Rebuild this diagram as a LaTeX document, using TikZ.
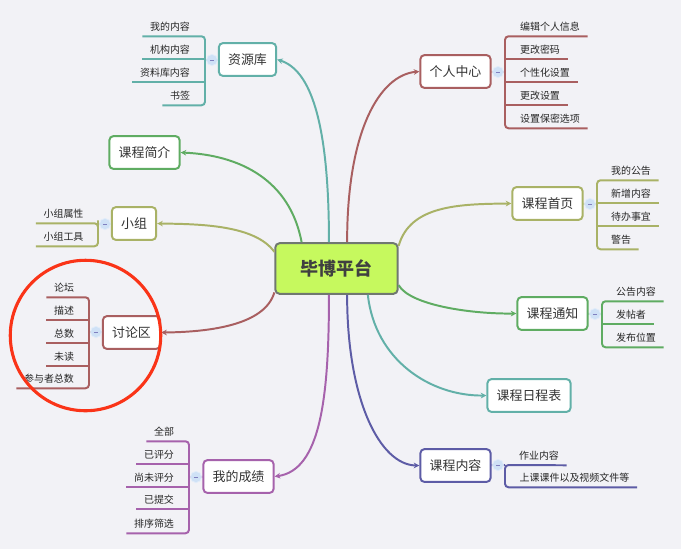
\documentclass[tikz,border=0pt]{standalone}
\usepackage{fontspec}
\usepackage{tikz}
\usetikzlibrary{arrows.meta}
\setmainfont{Noto Sans CJK SC}
\definecolor{paper}{HTML}{F2F2F6}
\definecolor{rootfill}{HTML}{C6F95E}
\definecolor{rootline}{HTML}{707870}
\definecolor{tealc}{HTML}{62B0A8}
\definecolor{greenc}{HTML}{5FAC62}
\definecolor{olivec}{HTML}{A9B266}
\definecolor{brownc}{HTML}{A95F60}
\definecolor{purplec}{HTML}{A662AC}
\definecolor{indigoc}{HTML}{5D5CA6}
\definecolor{hubfill}{HTML}{CFE1F6}
\definecolor{ringc}{HTML}{FA3418}
\tikzset{root/.style = {draw = rootline, fill = rootfill, line width = 1.4pt, rounded corners = 3pt, minimum width = 87pt, minimum height = 36pt, text = black!75, font = \fontsize{12.8}{14}\selectfont\bfseries}}
\tikzset{topic/.style = {draw, fill = white, line width = 1.4pt, rounded corners = 3pt, minimum height = 23.4pt, inner xsep = 6.6pt, text = black!80, font = \fontsize{9.2}{12}\selectfont}}
\tikzset{leaf/.style = {inner xsep = 5.3pt, inner ysep = 0, minimum height = 14.2pt, text height = 6.5pt, text depth = 0.5pt, text = black!85, font = \fontsize{7.09}{8}\selectfont}}
\tikzset{hub/.style = {circle, draw = hubfill!60!white, line width = 0.5pt, fill = hubfill, inner sep = 0, minimum size = 8pt, path picture = {\draw [white!50!blue!50!gray, line width = 0.4pt] ([xshift = -1.5pt]path picture bounding box.center) -- ([xshift = 1.5pt]path picture bounding box.center);}}}
\tikzset{curve/.style = {line width = 1.4pt, -{Stealth[length = 4pt, width = 4pt]}}}
\tikzset{branch/.style = {line width = 1.4pt, rounded corners = 2.5pt}}
\begin{document}
\begin{tikzpicture}[x = 0.025cm, y = -0.025cm]

    \fill [paper] (0, 0) rectangle (681, 549);

    \node [root] (root) at (336.5, 268.5) {毕博平台};

    \node [topic, draw = tealc] (zy) at (247.5, 59.5) {资源库};
    \node [topic, draw = greenc] (jj) at (144.5, 152.5) {课程简介};
    \node [topic, draw = olivec] (xz) at (134, 223.5) {小组};
    \node [topic, draw = brownc] (tl) at (131.5, 332.5) {讨论区};
    \node [topic, draw = purplec] (cj) at (238.5, 476.5) {我的成绩};
    \node [topic, draw = brownc] (gr) at (455.5, 71.5) {个人中心};
    \node [topic, draw = olivec] (sy) at (547.5, 203.5) {课程首页};
    \node [topic, draw = greenc] (tz) at (552.5, 313.5) {课程通知};
    \node [topic, draw = tealc] (rc) at (529, 395.5) {课程日程表};
    \node [topic, draw = indigoc] (nr) at (455.5, 465.5) {课程内容};

    \draw [curve, tealc] (root.106) .. controls (329, 120) and (310, 70) .. (zy.east);
    \draw [curve, greenc] (root.143) .. controls (290, 180) and (240, 155) .. (jj.east);
    \draw [curve, olivec] (root.165) .. controls (255, 225) and (200, 224) .. (xz.east);
    \draw [curve, brownc] (root.201) .. controls (265, 325) and (210, 332) .. (tl.east);
    \draw [curve, purplec] (root.254) .. controls (329, 400) and (320, 470) .. (cj.east);
    \draw [curve, brownc] (root.68) .. controls (347, 130) and (380, 75) .. (gr.west);
    \draw [curve, olivec] (root.20) .. controls (410, 205) and (460, 204) .. (sy.west);
    \draw [curve, greenc] (root.-15) .. controls (410, 305) and (470, 314) .. (tz.west);
    \draw [curve, tealc] (root.-40) .. controls (375, 360) and (430, 396) .. (rc.west);
    \draw [curve, indigoc] (root.-68) .. controls (347, 400) and (380, 465) .. (nr.west);

    % left side
    \node [leaf] (zy1) at (170, 26) {我的内容};
    \node [leaf] (zy2) at (170, 49) {机构内容};
    \node [leaf] (zy3) at (165, 72) {资料库内容};
    \node [leaf] (zy4) at (180, 95) {书签};
    \node [hub] (zyhub) at (212, 60) {};
    \coordinate (zyspine) at (205, 60);
    \draw [branch, tealc] (zy1.south west) -| (zyspine) |- (zy4.south west);
    \draw [branch, tealc] (zy2.south west) -- (zy2.south west -| zyspine);
    \draw [branch, tealc] (zy3.south west) -- (zy3.south west -| zyspine);
    \draw [branch, tealc] (zy) -- (zyhub) -- (zyspine);

    \node [leaf] (xz1) at (63.5, 213) {小组属性};
    \node [leaf] (xz2) at (63.5, 236) {小组工具};
    \node [hub] (xzhub) at (105, 224) {};
    \coordinate (xzspine) at (98, 224);
    \draw [branch, olivec] (xz1.south west) -| (xzspine) |- (xz2.south west);
    \draw [branch, olivec] (xz) -- (xzhub) -- (xzspine);

    \node [leaf] (tl1) at (64, 287) {论坛};
    \node [leaf] (tl2) at (64, 310) {描述};
    \node [leaf] (tl3) at (64, 333) {总数};
    \node [leaf] (tl4) at (64, 356) {未读};
    \node [leaf] (tl5) at (49, 378) {参与者总数};
    \node [hub] (tlhub) at (96, 332) {};
    \coordinate (tlspine) at (89, 332);
    \draw [branch, brownc] (tl1.south west) -| (tlspine) |- (tl5.south west);
    \draw [branch, brownc] (tl2.south west) -- (tl2.south west -| tlspine);
    \draw [branch, brownc] (tl3.south west) -- (tl3.south west -| tlspine);
    \draw [branch, brownc] (tl4.south west) -- (tl4.south west -| tlspine);
    \draw [branch, brownc] (tl) -- (tlhub) -- (tlspine);

    \node [leaf] (cj1) at (164, 431) {全部};
    \node [leaf] (cj2) at (159, 454) {已评分};
    \node [leaf] (cj3) at (154, 477) {尚未评分};
    \node [leaf] (cj4) at (159, 499) {已提交};
    \node [leaf] (cj5) at (154, 523) {排序筛选};
    \node [hub] (cjhub) at (196, 477) {};
    \coordinate (cjspine) at (189, 477);
    \draw [branch, purplec] (cj1.south west) -| (cjspine) |- (cj5.south west);
    \draw [branch, purplec] (cj2.south west) -- (cj2.south west -| cjspine);
    \draw [branch, purplec] (cj3.south west) -- (cj3.south west -| cjspine);
    \draw [branch, purplec] (cj4.south west) -- (cj4.south west -| cjspine);
    \draw [branch, purplec] (cj) -- (cjhub) -- (cjspine);

    % right side
    \node [leaf] (gr1) at (550, 26) {编辑个人信息};
    \node [leaf] (gr2) at (540, 49) {更改密码};
    \node [leaf] (gr3) at (545, 72) {个性化设置};
    \node [leaf] (gr4) at (540, 95) {更改设置};
    \node [leaf] (gr5) at (550, 118) {设置保密选项};
    \node [hub] (grhub) at (498, 72) {};
    \coordinate (grspine) at (505, 72);
    \draw [branch, brownc] (gr1.south east) -| (grspine) |- (gr5.south east);
    \draw [branch, brownc] (gr2.south east) -- (gr2.south east -| grspine);
    \draw [branch, brownc] (gr3.south east) -- (gr3.south east -| grspine);
    \draw [branch, brownc] (gr4.south east) -- (gr4.south east -| grspine);
    \draw [branch, brownc] (gr) -- (grhub) -- (grspine);

    \node [leaf] (sy1) at (631, 170) {我的公告};
    \node [leaf] (sy2) at (631, 193) {新增内容};
    \node [leaf] (sy3) at (631, 216) {待办事宜};
    \node [leaf] (sy4) at (621, 239) {警告};
    \node [hub] (syhub) at (590, 204) {};
    \coordinate (syspine) at (597, 204);
    \draw [branch, olivec] (sy1.south east) -| (syspine) |- (sy4.south east);
    \draw [branch, olivec] (sy2.south east) -- (sy2.south east -| syspine);
    \draw [branch, olivec] (sy3.south east) -- (sy3.south east -| syspine);
    \draw [branch, olivec] (sy) -- (syhub) -- (syspine);

    \node [leaf] (tz1) at (636, 291) {公告内容};
    \node [leaf] (tz2) at (631, 314) {发帖者};
    \node [leaf] (tz3) at (636, 337) {发布位置};
    \node [hub] (tzhub) at (595, 314) {};
    \coordinate (tzspine) at (602, 314);
    \draw [branch, greenc] (tz1.south east) -| (tzspine) |- (tz3.south east);
    \draw [branch, greenc] (tz2.south east) -- (tz2.south east -| tzspine);
    \draw [branch, greenc] (tz) -- (tzhub) -- (tzspine);

    \node [leaf] (nr1) at (539, 455) {作业内容};
    \node [leaf] (nr2) at (574.5, 477) {上课课件以及视频文件等};
    \node [hub] (nrhub) at (498, 465) {};
    \coordinate (nrspine) at (505, 465);
    \draw [branch, indigoc] (nr1.south east) -- (nrspine) |- (nr2.south east);
    \draw [branch, indigoc] (nr) -- (nrhub) -- (nrspine);

    \node [circle, draw = ringc, line width = 2.2pt, inner sep = 0, minimum size = 107pt] (ring) at (85.5, 335.5) {};

\end{tikzpicture}
\end{document}
